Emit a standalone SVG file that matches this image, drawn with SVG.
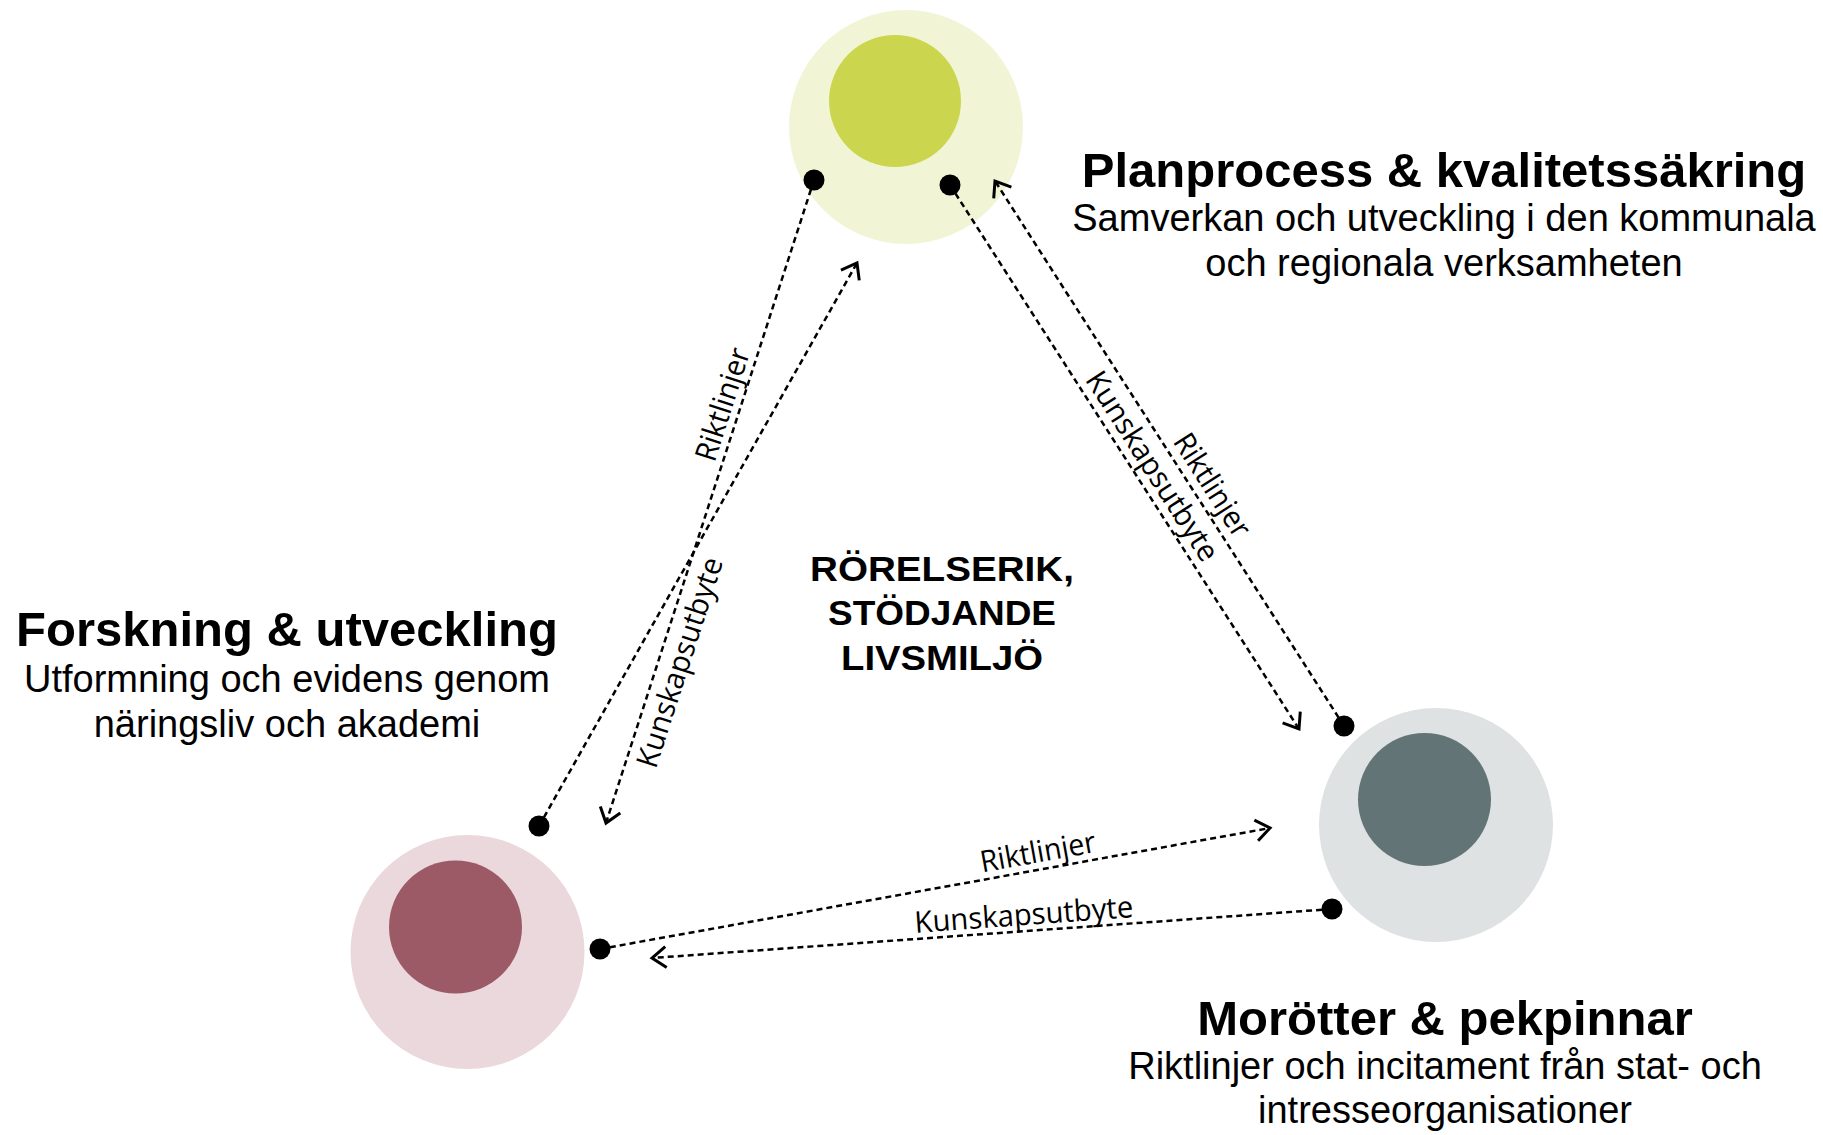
<svg xmlns="http://www.w3.org/2000/svg" width="1823" height="1135" viewBox="0 0 1823 1135">
  <defs>
    <marker id="chev" viewBox="-16 -16 32 32" refX="0" refY="0" markerWidth="32" markerHeight="32" markerUnits="userSpaceOnUse" orient="auto" overflow="visible">
      <path d="M-14,-10.5 L0,0 L-14,10.5" fill="none" stroke="#000" stroke-width="3" stroke-linejoin="miter"/>
    </marker>
  </defs>
  <style>
    .conn { fill: none; stroke: #000; stroke-width: 2.5; stroke-dasharray: 6 4; }
    .dot { fill: #000; }
    .lbl { font-family: "Open Sans", "Noto Sans", sans-serif; font-size: 30px; fill: #000; text-anchor: middle; }
    .title { font-family: "Liberation Sans", Arial, sans-serif; font-weight: bold; font-size: 49px; fill: #000; text-anchor: middle; }
    .sub { font-family: "Liberation Sans", Arial, sans-serif; font-size: 38px; fill: #000; text-anchor: middle; }
    .center { font-family: "Liberation Sans", Arial, sans-serif; font-weight: bold; font-size: 35px; fill: #000; text-anchor: middle; }
  </style>
  <rect width="1823" height="1135" fill="#fff"/>

  <g id="node-planprocess">
    <circle cx="906" cy="127" r="117" fill="#f1f5d6"/>
    <circle cx="895" cy="101" r="66" fill="#cbd64e"/>
    <text class="title" x="1444" y="187">Planprocess &amp; kvalitetssäkring</text>
    <text class="sub" x="1444" y="231">Samverkan och utveckling i den kommunala</text>
    <text class="sub" x="1444" y="276">och regionala verksamheten</text>
  </g>

  <g id="node-forskning">
    <circle cx="467.5" cy="952" r="117" fill="#ead8dd"/>
    <circle cx="455.5" cy="927" r="66.5" fill="#9b5a65"/>
    <text class="title" x="287" y="646">Forskning &amp; utveckling</text>
    <text class="sub" x="287" y="692">Utformning och evidens genom</text>
    <text class="sub" x="287" y="737">näringsliv och akademi</text>
  </g>

  <g id="node-morotter">
    <circle cx="1436" cy="825" r="117" fill="#dfe2e2"/>
    <circle cx="1424.5" cy="799.5" r="66.5" fill="#627475"/>
    <text class="title" x="1445" y="1035">Morötter &amp; pekpinnar</text>
    <text class="sub" x="1445" y="1079">Riktlinjer och incitament från stat- och</text>
    <text class="sub" x="1445" y="1123">intresseorganisationer</text>
  </g>

  <g id="node-center">
    <text class="center" x="942" y="581" textLength="264" lengthAdjust="spacingAndGlyphs">RÖRELSERIK,</text>
    <text class="center" x="942" y="625" textLength="228" lengthAdjust="spacingAndGlyphs">STÖDJANDE</text>
    <text class="center" x="942" y="670" textLength="202" lengthAdjust="spacingAndGlyphs">LIVSMILJÖ</text>
  </g>

  <g id="connectors">
    <path class="conn" d="M814,180 L606,823" marker-end="url(#chev)"/>
    <path class="conn" d="M539,826 L857,263" marker-end="url(#chev)"/>
    <path class="conn" d="M950,185 L1299,729" marker-end="url(#chev)"/>
    <path class="conn" d="M1344,726 L995,181" marker-end="url(#chev)"/>
    <path class="conn" d="M600,949 L1270,828" marker-end="url(#chev)"/>
    <path class="conn" d="M1332,909 L652,958" marker-end="url(#chev)"/>

    <circle class="dot" cx="814" cy="180" r="10.5"/>
    <circle class="dot" cx="950" cy="185" r="10.5"/>
    <circle class="dot" cx="539" cy="826" r="10.5"/>
    <circle class="dot" cx="600" cy="949" r="10.5"/>
    <circle class="dot" cx="1344" cy="726" r="10.5"/>
    <circle class="dot" cx="1332" cy="909" r="10.5"/>

    <text class="lbl" transform="translate(740,410) rotate(-72.07)" x="0" y="-8" textLength="117" lengthAdjust="spacingAndGlyphs">Riktlinjer</text>
    <text class="lbl" transform="translate(660,656) rotate(-72.07)" x="0" y="31" textLength="219" lengthAdjust="spacingAndGlyphs">Kunskapsutbyte</text>
    <text class="lbl" transform="translate(1137,476) rotate(57.32)" x="0" y="-8" textLength="219" lengthAdjust="spacingAndGlyphs">Kunskapsutbyte</text>
    <text class="lbl" transform="translate(1197,495) rotate(57.36)" x="0" y="-8" textLength="117" lengthAdjust="spacingAndGlyphs">Riktlinjer</text>
    <text class="lbl" transform="translate(1041,869) rotate(-10.24)" x="0" y="-7" textLength="117" lengthAdjust="spacingAndGlyphs">Riktlinjer</text>
    <text class="lbl" transform="translate(1025,931) rotate(-4.12)" x="0" y="-6" textLength="219" lengthAdjust="spacingAndGlyphs">Kunskapsutbyte</text>
  </g>
</svg>
